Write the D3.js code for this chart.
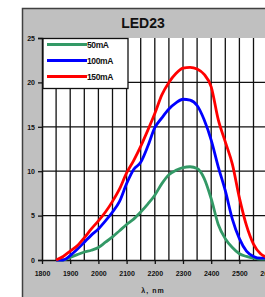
<!DOCTYPE html>
<html>
<head>
<meta charset="utf-8">
<script src="https://cdn.jsdelivr.net/npm/d3@7"></script>
<style>
  body { margin: 0; background: #fff; }
  svg { display: block; font-family: "Liberation Sans", Arial, sans-serif; }
</style>
</head>
<body>
<svg id="chart" width="265" height="297"></svg>
<script>
const TITLE = 'LED23';
const X_LABEL = 'λ, nm';

// wavelength points, nm
const wavelengths = [1850, 1875, 1900, 1925, 1950, 1975, 2000, 2025, 2050, 2075, 2100,
    2125, 2150, 2175, 2200, 2225, 2250, 2275, 2300, 2325, 2350, 2375, 2400,
    2425, 2450, 2475, 2500, 2525, 2550, 2575, 2600];

const green50 = [0, 0, 0.3, 0.6, 0.9, 1.1, 1.4, 2.0, 2.6, 3.3, 4.0,
    4.6, 5.4, 6.3, 7.3, 8.6, 9.6, 10.1, 10.4, 10.5, 10.3, 9.2, 6.9,
    4.0, 2.4, 1.4, 0.7, 0.4, 0.2, 0.1, 0.1];

const blue100 = [0, 0, 0.5, 1.2, 2.0, 2.8, 3.5, 4.4, 5.4, 6.6, 8.6,
    10.2, 11.0, 12.8, 14.9, 16.0, 17.0, 17.7, 18.1, 18.0, 17.4, 15.8, 13.5,
    10.5, 7.8, 4.6, 2.4, 1.0, 0.4, 0.2, 0.2];

const red150 = [0, 0.4, 1.0, 1.6, 2.5, 3.5, 4.4, 5.4, 6.6, 8.0, 9.8,
    11.2, 12.8, 14.6, 16.5, 18.6, 20.0, 21.0, 21.6, 21.7, 21.5, 20.9, 19.5,
    15.8, 13.3, 10.8, 7.0, 3.9, 1.8, 0.7, 0.3];

const seriesNames = ['50mA', '100mA', '150mA'];
const seriesColors = ['#339966', '#0000ff', '#ff0000'];

const xTicks = [1800, 1900, 2000, 2100, 2200, 2300, 2400, 2500, 2600];
const yTicks = [0, 5, 10, 15, 20, 25];

const svg = d3.select('#chart');
const plotLeft = 42, plotTop = 38, plotBottom = 260;

let x = d3.scaleLinear().domain([1800, 2600]).range([plotLeft, 267.6]);
let y = d3.scaleLinear().domain([0, 25]).range([plotBottom, plotTop]);

// grey panel
svg.append('rect')
    .attr('x', 22.5).attr('y', 8.5)
    .attr('width', 300).attr('height', 300)
    .attr('fill', '#c0c0c0')
    .attr('stroke', '#404040')
    .attr('stroke-width', 1.5);

// plot area
svg.append('rect')
    .attr('x', plotLeft).attr('y', plotTop)
    .attr('width', 300).attr('height', plotBottom - plotTop)
    .attr('fill', '#fff');

// vertical grid every 50 nm
let vGrid = d3.range(1850, 2700, 50);
svg.append('g').selectAll('line').data(vGrid).join('line')
    .attr('x1', d => x(d)).attr('x2', d => x(d))
    .attr('y1', plotTop).attr('y2', plotBottom)
    .attr('stroke', '#111').attr('stroke-width', 1.3);

// horizontal grid
svg.append('g').selectAll('line').data(yTicks.filter(d => d > 0 && d < 25)).join('line')
    .attr('x1', plotLeft).attr('x2', 300)
    .attr('y1', d => y(d)).attr('y2', d => y(d))
    .attr('stroke', '#111').attr('stroke-width', 1.3);

// axes
let yAxis = d3.axisLeft(y).tickValues(yTicks).tickSize(4).tickPadding(3);
let gy = svg.append('g').attr('transform', `translate(${plotLeft},0)`).call(yAxis);
let xAxis = d3.axisBottom(x).tickValues(xTicks).tickFormat(d3.format('d'))
    .tickSize(4).tickPadding(7);
let gx = svg.append('g').attr('transform', `translate(0,${plotBottom})`).call(xAxis);

[gx, gy].forEach(g => {
    g.select('.domain').attr('stroke', '#111').attr('stroke-width', 1.5);
    g.selectAll('.tick line').attr('stroke', '#111').attr('stroke-width', 1.3);
    g.selectAll('.tick text')
        .attr('fill', '#111')
        .style('font-size', '7px')
        .style('font-weight', 'bold');
});
gx.select('.domain').attr('d', `M${plotLeft},0.5H300`);

// curves
let line = d3.line()
    .x((d, i) => x(wavelengths[i]))
    .y(d => y(d))
    .curve(d3.curveMonotoneX);

[green50, blue100, red150].forEach((values, i) => {
    svg.append('path')
        .datum(values)
        .attr('d', line)
        .attr('fill', 'none')
        .attr('stroke', seriesColors[i])
        .attr('stroke-width', 2.8)
        .attr('stroke-linejoin', 'round');
});

// legend
let legend = svg.append('g').attr('transform', 'translate(43,38.5)');
legend.append('rect')
    .attr('width', 85).attr('height', 50)
    .attr('fill', '#fff')
    .attr('stroke', '#111').attr('stroke-width', 1.3);
seriesNames.forEach((name, i) => {
    let ly = 6 + i * 16;
    legend.append('line')
        .attr('x1', 4).attr('x2', 44)
        .attr('y1', ly).attr('y2', ly)
        .attr('stroke', seriesColors[i]).attr('stroke-width', 2.8);
    legend.append('text')
        .attr('x', 44).attr('y', ly + 3)
        .attr('fill', '#111')
        .style('font-size', '8.5px')
        .style('font-weight', 'bold')
        .style('letter-spacing', '-0.4px')
        .text(name);
});

// title
svg.append('text')
    .attr('x', 143).attr('y', 28)
    .attr('text-anchor', 'middle')
    .attr('fill', '#111')
    .style('font-size', '14px')
    .style('font-weight', 'bold')
    .text(TITLE);

// x axis label
svg.append('text')
    .attr('x', 153).attr('y', 293)
    .attr('text-anchor', 'middle')
    .attr('fill', '#111')
    .style('font-size', '7px')
    .style('font-weight', 'bold')
    .style('letter-spacing', '1px')
    .text(X_LABEL);
</script>
</body>
</html>
